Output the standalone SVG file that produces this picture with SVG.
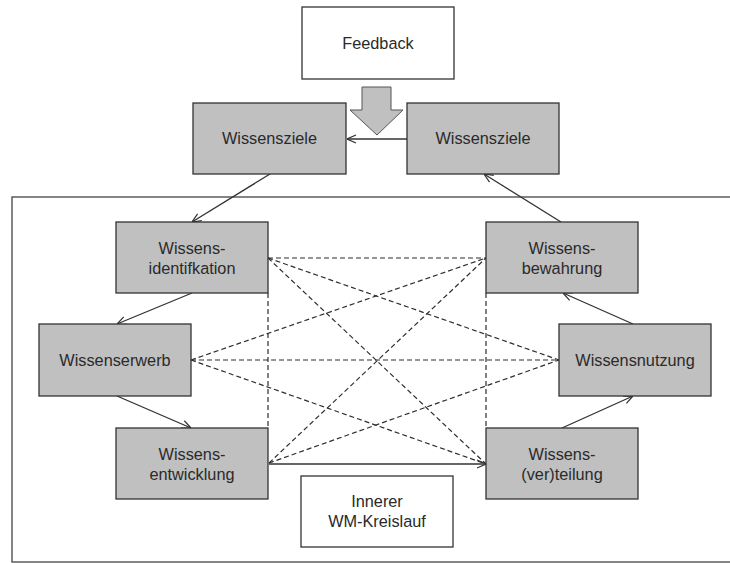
<svg xmlns="http://www.w3.org/2000/svg" width="730" height="563" viewBox="0 0 730 563">
  <style>
    .box { fill: #c0c0c0; stroke: #333; stroke-width: 1.3; }
    .plain { fill: #fff; stroke: #333; stroke-width: 1.3; }
    .lbl { font-family: "Liberation Sans", Arial, sans-serif; font-size: 16.3px; fill: #2a2a2a; text-anchor: middle; }
    .flow { fill: none; stroke: #333; stroke-width: 1.3; }
    .link { fill: none; stroke: #2e2e2e; stroke-width: 1.2; stroke-dasharray: 5 3; }
  </style>
  <defs>
    <marker id="open" viewBox="0 0 10 10" refX="10" refY="5" markerWidth="10" markerHeight="10" markerUnits="userSpaceOnUse" orient="auto">
      <path d="M1,1 L10,5 L1,9" fill="none" stroke="#333" stroke-width="1.2"/>
    </marker>
  </defs>

  <rect width="730" height="563" fill="#fff"/>

  <!-- inner knowledge-management cycle frame (runs off the right edge) -->
  <g id="frame">
    <rect x="12" y="197" width="730" height="365" fill="none" stroke="#444" stroke-width="1.3"/>
  </g>

  <!-- connectors -->
  <g id="connectors">
    <!-- dashed cross links -->
    <line class="link" x1="268" y1="258" x2="486" y2="258"/>
    <line class="link" x1="268" y1="258" x2="559" y2="360"/>
    <line class="link" x1="268" y1="258" x2="486" y2="464"/>
    <line class="link" x1="191" y1="360" x2="486" y2="258"/>
    <line class="link" x1="191" y1="360" x2="559" y2="360"/>
    <line class="link" x1="191" y1="360" x2="486" y2="464"/>
    <line class="link" x1="269" y1="463" x2="486" y2="258"/>
    <line class="link" x1="269" y1="463" x2="559" y2="360"/>
    <line class="link" x1="268" y1="293" x2="268" y2="428"/>
    <line class="link" x1="486" y1="293" x2="486" y2="428"/>

    <!-- solid cycle arrows -->
    <line class="flow" x1="407" y1="139" x2="347" y2="139" marker-end="url(#open)"/>
    <line class="flow" x1="270" y1="174" x2="192" y2="222" marker-end="url(#open)"/>
    <line class="flow" x1="192" y1="293" x2="117" y2="324" marker-end="url(#open)"/>
    <line class="flow" x1="117" y1="396" x2="191" y2="428" marker-end="url(#open)"/>
    <line class="flow" x1="269" y1="464" x2="486" y2="464" marker-end="url(#open)"/>
    <line class="flow" x1="562" y1="428" x2="633" y2="396" marker-end="url(#open)"/>
    <line class="flow" x1="633" y1="324" x2="563" y2="293" marker-end="url(#open)"/>
    <line class="flow" x1="561" y1="222" x2="484" y2="174" marker-end="url(#open)"/>

    <!-- block arrow from feedback -->
    <path d="M362,87 L391,87 L391,110 L403,110 L377,135 L350,110 L362,110 Z" fill="#c0c0c0" stroke="#555" stroke-width="1"/>
  </g>

  <g id="feedback">
    <rect class="plain" x="302" y="7" width="152" height="72"/>
    <text class="lbl" x="378" y="49">Feedback</text>
  </g>

  <g id="ziele-left">
    <rect class="box" x="193" y="103" width="153" height="71"/>
    <text class="lbl" x="269.5" y="144">Wissensziele</text>
  </g>

  <g id="ziele-right">
    <rect class="box" x="407" y="103" width="152" height="71"/>
    <text class="lbl" x="483" y="144">Wissensziele</text>
  </g>

  <g id="identifikation">
    <rect class="box" x="116" y="222" width="152" height="71"/>
    <text class="lbl" x="192" y="254">Wissens-</text>
    <text class="lbl" x="192" y="274">identifkation</text>
  </g>

  <g id="erwerb">
    <rect class="box" x="39" y="324" width="152" height="72"/>
    <text class="lbl" x="115" y="366">Wissenserwerb</text>
  </g>

  <g id="entwicklung">
    <rect class="box" x="116" y="428" width="152" height="71"/>
    <text class="lbl" x="192" y="460">Wissens-</text>
    <text class="lbl" x="192" y="480">entwicklung</text>
  </g>

  <g id="bewahrung">
    <rect class="box" x="486" y="222" width="152" height="71"/>
    <text class="lbl" x="562" y="254">Wissens-</text>
    <text class="lbl" x="562" y="274">bewahrung</text>
  </g>

  <g id="nutzung">
    <rect class="box" x="559" y="324" width="152" height="72"/>
    <text class="lbl" x="635" y="366">Wissensnutzung</text>
  </g>

  <g id="verteilung">
    <rect class="box" x="486" y="428" width="152" height="71"/>
    <text class="lbl" x="562" y="460">Wissens-</text>
    <text class="lbl" x="562" y="480">(ver)teilung</text>
  </g>

  <g id="kreislauf">
    <rect class="plain" x="301" y="476" width="152" height="71"/>
    <text class="lbl" x="377" y="507">Innerer</text>
    <text class="lbl" x="377" y="527">WM-Kreislauf</text>
  </g>
</svg>
